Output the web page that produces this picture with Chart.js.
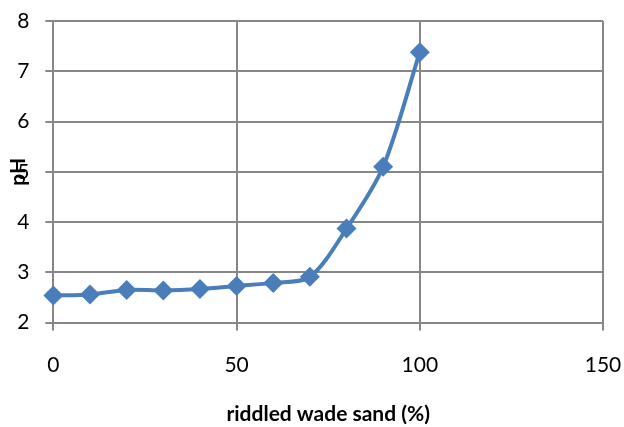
<!DOCTYPE html>
<html>
<head>
<meta charset="utf-8">
<script src="https://cdn.jsdelivr.net/npm/chart.js@4/dist/chart.umd.min.js"></script>
<style>
  html, body { margin: 0; padding: 0; background: #fff; }
  #wrap { width: 624px; height: 427px; }
</style>
</head>
<body>
<div id="wrap"><canvas id="phChart" width="624" height="427"></canvas></div>
<script>
// riddled wade sand share (%) and measured pH
const sandPercent = [0, 10, 20, 30, 40, 50, 60, 70, 80, 90, 100];
const phValues = [2.54, 2.56, 2.65, 2.64, 2.67, 2.73, 2.79, 2.91, 3.87, 5.10, 7.38];

const xTicks = { min: 0, max: 150, step: 50 };
const yTicks = { min: 2, max: 8, step: 1 };

const gridGray = '#878787';
const lineBlue = '#4a7ebb';
const fontFamily = 'Lato, "Open Sans", sans-serif';

document.addEventListener('DOMContentLoaded', function () {
    const ctx = document.getElementById('phChart').getContext('2d');

    new Chart(ctx, {
        type: 'line',
        data: {
            datasets: [{
                label: 'pH',
                data: sandPercent.map((x, i) => ({ x: x, y: phValues[i] })),
                borderColor: lineBlue,
                backgroundColor: lineBlue,
                borderWidth: 4,
                pointStyle: 'rectRot',
                pointRadius: 10,
                pointHoverRadius: 10,
                pointBorderWidth: 0,
                tension: 0.3,
                fill: false,
                clip: false
            }]
        },
        options: {
            responsive: false,
            animation: false,
            layout: {
                padding: { top: 21, right: 21, left: 6, bottom: 0 }
            },
            plugins: {
                legend: { display: false },
                tooltip: { enabled: false }
            },
            scales: {
                x: {
                    type: 'linear',
                    min: xTicks.min,
                    max: xTicks.max,
                    // let the layout padding alone decide the side margins
                    afterFit: function (scale) {
                        scale.paddingLeft = 0;
                        scale.paddingRight = 0;
                    },
                    ticks: {
                        stepSize: xTicks.step,
                        color: '#000',
                        padding: 22,
                        maxRotation: 0,
                        font: { family: fontFamily, size: 21 }
                    },
                    grid: {
                        color: gridGray,
                        lineWidth: 2,
                        tickLength: 8,
                        tickColor: gridGray
                    },
                    border: { color: gridGray, width: 2 },
                    title: {
                        display: true,
                        text: 'riddled wade sand (%)',
                        color: '#000',
                        font: { family: fontFamily, size: 21, weight: 'bold' },
                        padding: { top: 2, bottom: 0 }
                    }
                },
                y: {
                    min: yTicks.min,
                    max: yTicks.max,
                    afterFit: function (scale) {
                        scale.paddingTop = 0;
                        scale.paddingBottom = 0;
                    },
                    ticks: {
                        stepSize: yTicks.step,
                        color: '#000',
                        padding: 16,
                        font: { family: fontFamily, size: 21 }
                    },
                    grid: {
                        color: gridGray,
                        lineWidth: 2,
                        tickLength: 8,
                        tickColor: gridGray
                    },
                    border: { color: gridGray, width: 2 },
                    title: {
                        display: true,
                        text: 'pH',
                        color: '#000',
                        font: { family: fontFamily, size: 21, weight: 'bold' },
                        padding: { top: 0, bottom: -30 }
                    }
                }
            }
        }
    });
});
</script>
</body>
</html>
